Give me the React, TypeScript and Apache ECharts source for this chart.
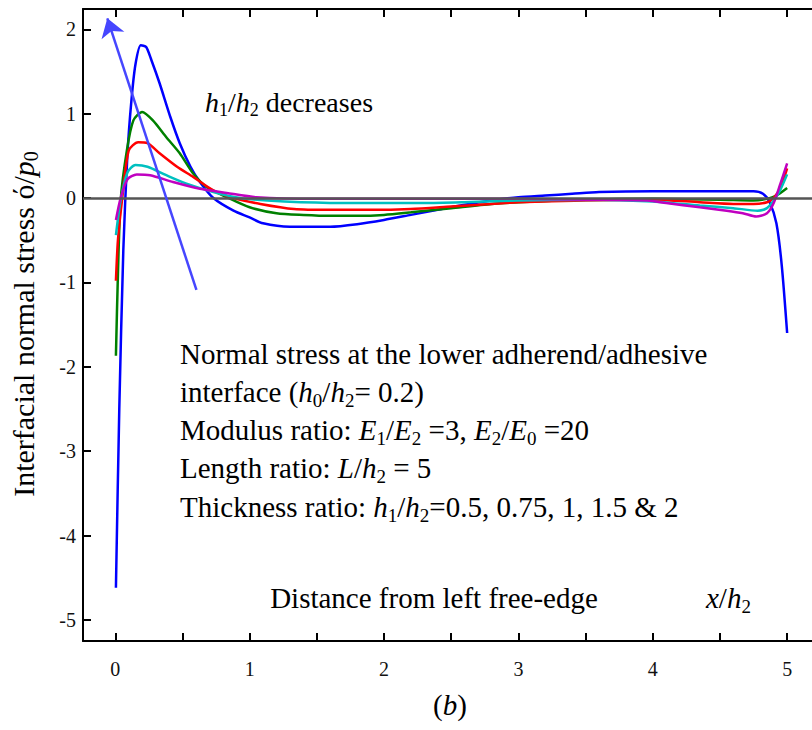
import React, { useEffect, useRef } from "react";
import * as echarts from "echarts";

const FONT = "Liberation Serif";

const xTicks = [0, 0.5, 1, 1.5, 2, 2.5, 3, 3.5, 4, 4.5, 5];
const xLabels = [0, 1, 2, 3, 4, 5];
const yTicks = [-5, -4, -3, -2, -1, 0, 1, 2];

// h1/h2 = 0.5 (blue)
const blueX = [0.005, 0.03, 0.06, 0.09, 0.12, 0.15, 0.19, 0.23, 0.27, 0.33, 0.41, 0.48, 0.56, 0.63, 0.73, 0.88, 1.0, 1.1, 1.3, 1.6, 1.8, 2.0, 2.2, 2.4, 2.6, 2.8, 3.0, 3.2, 3.4, 3.6, 4.0, 4.4, 4.75, 4.82, 4.87, 4.92, 4.96, 5.0];
const blueY = [-4.62, -2.5, -0.62, 0.5, 1.15, 1.58, 1.81, 1.79, 1.63, 1.36, 0.96, 0.65, 0.37, 0.19, 0.0, -0.15, -0.23, -0.3, -0.34, -0.34, -0.31, -0.26, -0.2, -0.14, -0.08, -0.03, 0.01, 0.03, 0.05, 0.07, 0.08, 0.08, 0.08, 0.05, -0.05, -0.3, -0.8, -1.6];

// green
const greenX = [0.005, 0.02, 0.04, 0.087, 0.135, 0.2, 0.28, 0.38, 0.48, 0.58, 0.68, 0.83, 1.0, 1.2, 1.4, 1.6, 1.8, 2.0, 2.2, 2.5, 2.8, 3.0, 3.5, 4.0, 4.5, 4.75, 4.85, 4.92, 5.0];
const greenY = [-1.87, -0.9, -0.03, 0.57, 0.92, 1.02, 0.92, 0.72, 0.53, 0.29, 0.13, 0.01, -0.11, -0.18, -0.2, -0.21, -0.21, -0.2, -0.17, -0.12, -0.07, -0.05, -0.02, -0.01, -0.02, -0.03, -0.01, 0.03, 0.12];

// red
const redX = [0.005, 0.02, 0.05, 0.1, 0.17, 0.24, 0.33, 0.46, 0.58, 0.73, 0.88, 1.08, 1.33, 1.6, 1.9, 2.2, 2.5, 2.8, 3.0, 3.5, 4.0, 4.35, 4.6, 4.75, 4.85, 4.9, 4.95, 5.0];
const redY = [-0.98, -0.5, -0.03, 0.56, 0.66, 0.65, 0.53, 0.37, 0.25, 0.09, 0.0, -0.07, -0.13, -0.14, -0.14, -0.13, -0.1, -0.07, -0.05, -0.03, -0.02, -0.05, -0.07, -0.07, -0.05, 0.0, 0.12, 0.35];

// cyan
const cyanX = [0.005, 0.04, 0.09, 0.15, 0.24, 0.38, 0.53, 0.73, 0.93, 1.13, 1.38, 1.8, 2.3, 2.6, 3.0, 3.5, 4.0, 4.35, 4.6, 4.78, 4.85, 4.9, 4.95, 5.0];
const cyanY = [-0.44, -0.03, 0.3, 0.39, 0.37, 0.27, 0.17, 0.07, 0.0, -0.03, -0.05, -0.06, -0.06, -0.05, -0.03, -0.02, -0.04, -0.09, -0.12, -0.15, -0.12, -0.03, 0.1, 0.28];

// magenta
const magX = [0.005, 0.04, 0.09, 0.16, 0.26, 0.43, 0.63, 0.83, 1.05, 1.5, 2.0, 2.5, 3.0, 3.5, 3.96, 4.1, 4.35, 4.55, 4.67, 4.77, 4.85, 4.9, 4.95, 5.0];
const magY = [-0.26, 0.0, 0.22, 0.28, 0.27, 0.19, 0.11, 0.06, 0.01, -0.01, -0.01, -0.01, -0.01, -0.02, -0.03, -0.06, -0.11, -0.15, -0.18, -0.22, -0.18, -0.06, 0.17, 0.41];

const arrowFrom = [0.604, -1.09];
const arrowTo = [-0.059, 2.13];

const zip = (xs: number[], ys: number[]) => xs.map((x, i) => [x, ys[i]]);

const rich = (size: number, sub: number, lh: number) => ({
  n: { fontSize: size, fontFamily: FONT, lineHeight: lh, fill: "#000" },
  i: { fontStyle: "italic", fontSize: size, fontFamily: FONT, lineHeight: lh, fill: "#000" },
  s: { fontSize: sub, fontFamily: FONT, lineHeight: sub, verticalAlign: "bottom", fill: "#000" },
});

const txt = (
  x: number,
  y: number,
  text: string,
  size: number,
  align: string = "left",
  rotation = 0
) => ({
  type: "text",
  x,
  y,
  rotation,
  silent: true,
  style: {
    text,
    fontSize: size,
    fontFamily: FONT,
    lineHeight: Math.round(size * 1.2),
    fill: "#000",
    align,
    verticalAlign: "middle",
    rich: rich(size, Math.round(size * 0.66), Math.round(size * 1.2)),
  },
});

export default function App() {
  const ref = useRef<HTMLDivElement>(null);
  useEffect(() => {
    if (!ref.current) return;
    const chart = echarts.init(ref.current, undefined, { renderer: "svg" });
    const lineSeries = (name: string, data: number[][], color: string, extra: any = {}) => ({
      type: "line",
      name,
      data,
      showSymbol: false,
      symbol: "none",
      smooth: 0.25,
      lineStyle: { color, width: 2.5 },
      itemStyle: { color },
      z: 3,
      ...extra,
    });
    const axisCommon = {
      type: "value",
      axisLine: { show: true, onZero: false, lineStyle: { color: "#000", width: 2 } },
      splitLine: { show: false },
    };
    chart.setOption({
      animation: false,
      backgroundColor: "#fff",
      textStyle: { fontFamily: FONT },
      grid: { left: 83, right: 0, top: 9, bottom: 89, containLabel: false },
      xAxis: [
        {
          ...axisCommon,
          min: -0.24,
          max: 5.185,
          position: "bottom",
          axisTick: { show: true, inside: true, length: 8, lineStyle: { color: "#000", width: 2 }, customValues: xTicks },
          axisLabel: { show: true, customValues: xLabels, fontSize: 20, fontFamily: FONT, color: "#111", margin: 18 },
        },
        {
          ...axisCommon,
          min: -0.24,
          max: 5.185,
          position: "top",
          axisTick: { show: true, inside: true, length: 8, lineStyle: { color: "#000", width: 2 }, customValues: xTicks },
          axisLabel: { show: false },
        },
      ],
      yAxis: {
        ...axisCommon,
        min: -5.25,
        max: 2.24,
        axisTick: { show: true, inside: true, length: 8, lineStyle: { color: "#000", width: 2 }, customValues: yTicks },
        axisLabel: { show: true, customValues: yTicks, fontSize: 20, fontFamily: FONT, color: "#111", margin: 7 },
      },
      series: [
        lineSeries("h1/h2=0.5", zip(blueX, blueY), "#0000ff", {
          markLine: {
            silent: true,
            symbol: ["none", "none"],
            label: { show: false },
            lineStyle: { color: "#555555", width: 2.5, type: "solid" },
            data: [{ yAxis: 0 }],
          },
        }),
        lineSeries("h1/h2=0.75", zip(greenX, greenY), "#008000"),
        lineSeries("h1/h2=1", zip(redX, redY), "#ff0000"),
        lineSeries("h1/h2=1.5", zip(cyanX, cyanY), "#00c0c0"),
        lineSeries("h1/h2=2", zip(magX, magY), "#c000c0"),
        {
          type: "lines",
          coordinateSystem: "cartesian2d",
          silent: true,
          symbol: ["none", "arrow"],
          symbolSize: 18,
          lineStyle: { color: "#4646ff", width: 2.5, opacity: 1, curveness: 0 },
          data: [{ coords: [arrowFrom, arrowTo] }],
          z: 5,
        },
      ],
      graphic: [
        txt(205, 102, "{i|h}{s|1}/{i|h}{s|2}{n| decreases}", 28),
        txt(180, 354, "{n|Normal stress at the lower adherend/adhesive}", 29),
        txt(180, 392, "{n|interface (}{i|h}{s|0}/{i|h}{s|2}{n|= 0.2)}", 29),
        txt(180, 430, "{n|Modulus ratio: }{i|E}{s|1}/{i|E}{s|2}{n| =3, }{i|E}{s|2}/{i|E}{s|0}{n| =20}", 29),
        txt(180, 468, "{n|Length ratio: }{i|L}/{i|h}{s|2}{n| = 5}", 29),
        txt(180, 507, "{n|Thickness ratio: }{i|h}{s|1}/{i|h}{s|2}{n|=0.5, 0.75, 1, 1.5 & 2}", 29),
        txt(434, 598, "{n|Distance from left free-edge}", 29, "center"),
        txt(706, 598, "{i|x}/{i|h}{s|2}", 29),
        txt(450, 705, "{n|(}{i|b}{n|)}", 29, "center"),
        txt(23, 324, "{n|Interfacial normal stress ό/}{i|p}{s|0}", 30, "center", Math.PI / 2),
      ],
    });
    return () => chart.dispose();
  }, []);
  return <div ref={ref} style={{ position: "fixed", left: 0, top: 0, width: 812, height: 730 }} />;
}
